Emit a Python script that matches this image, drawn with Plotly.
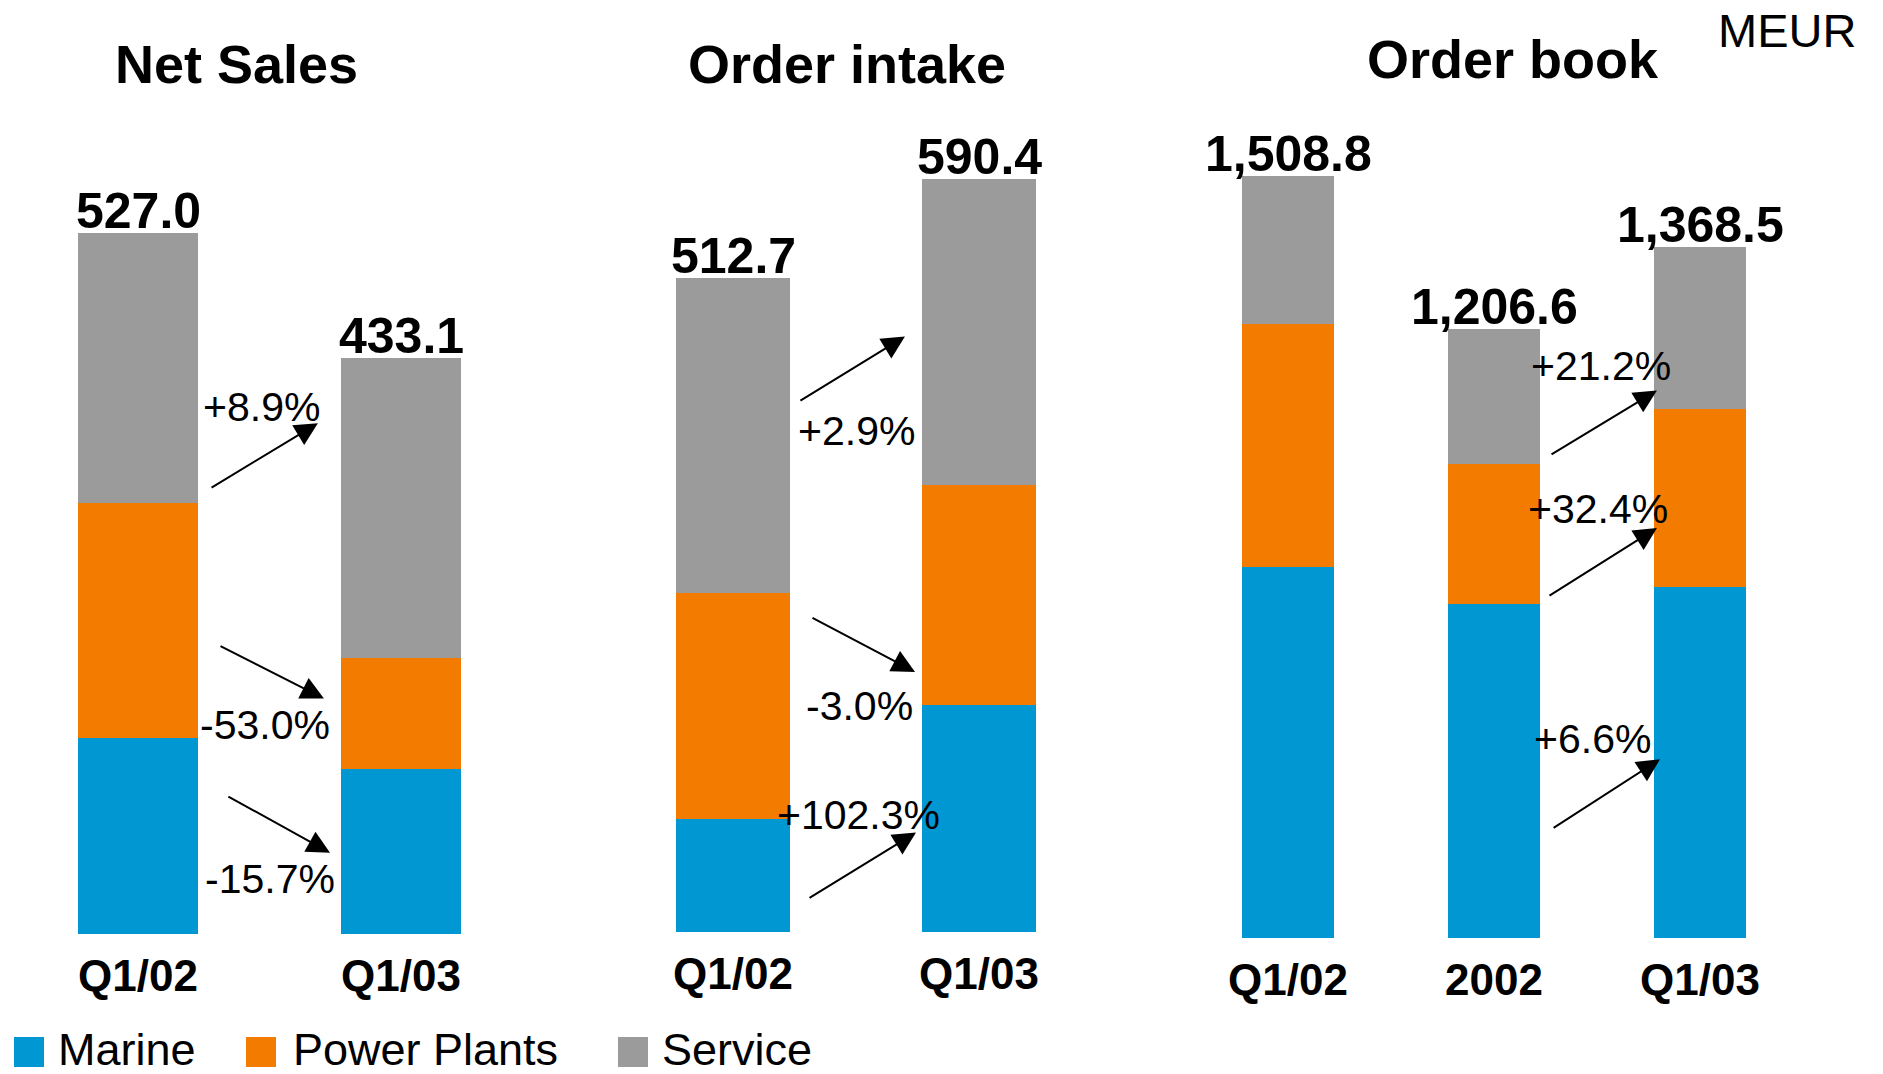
import plotly.graph_objects as go

# ---- data (MEUR) ----
ns_cats = ["Q1/02", "Q1/03"]
ns_marine = [147.0, 124.0]
ns_power = [177.0, 83.5]
ns_service = [203.0, 225.6]
ns_total = [527.0, 433.1]
ns_changes = ["+8.9%", "-53.0%", "-15.7%"]

oi_cats = ["Q1/02", "Q1/03"]
oi_marine = [88.5, 178.0]
oi_power = [177.0, 172.5]
oi_service = [247.2, 239.9]
oi_total = [512.7, 590.4]
oi_changes = ["+2.9%", "-3.0%", "+102.3%"]

ob_cats = ["Q1/02", "2002", "Q1/03"]
ob_marine = [735.6, 662.0, 695.4]
ob_power = [480.9, 276.0, 352.3]
ob_service = [292.3, 268.6, 320.8]
ob_total = [1508.8, 1206.6, 1368.5]
ob_changes = ["+21.2%", "+32.4%", "+6.6%"]

segments = ["Marine", "Power Plants", "Service"]
colors = ["#0097D3", "#F27B00", "#9B9B9B"]

W, H = 1883, 1074
FONT = "Liberation Sans, Arial, sans-serif"

fig = go.Figure()

panels = [
    dict(ax="", cats=ns_cats, series=[ns_marine, ns_power, ns_service], total=ns_total,
         width=0.456, xdom=(6.5, 532.5), base=934, ymax=934 / 1.33,
         title="Net Sales", tpos=(236, 64), changes=ns_changes,
         arrows=[((0.274, 335), (0.684, 384), (0.468, 396)),
                 ((0.308, 217), (0.707, 177), (0.483, 157)),
                 ((0.338, 104), (0.730, 61), (0.502, 41))]),
    dict(ax="2", cats=oi_cats, series=[oi_marine, oi_power, oi_service], total=oi_total,
         width=0.46, xdom=(610, 1102), base=932, ymax=932 / 1.275,
         title="Order intake", tpos=(847, 64), changes=oi_changes,
         arrows=[((0.268, 416), (0.699, 467), (0.504, 393)),
                 ((0.317, 247), (0.740, 204), (0.516, 177)),
                 ((0.305, 26), (0.744, 78), (0.512, 92))]),
    dict(ax="3", cats=ob_cats, series=[ob_marine, ob_power, ob_service], total=ob_total,
         width=0.447, xdom=(1185, 1803), base=938, ymax=938 / 0.505,
         title="Order book", tpos=(1513, 59), changes=ob_changes,
         arrows=[((1.272, 956), (1.791, 1084), (1.519, 1132)),
                 ((1.262, 676), (1.791, 812), (1.505, 850)),
                 ((1.282, 216), (1.806, 354), (1.476, 394))]),
]

annotations = []
for p in panels:
    xr, yr = "x" + p["ax"], "y" + p["ax"]
    for name, col, vals in zip(segments, colors, p["series"]):
        fig.add_trace(go.Bar(x=p["cats"], y=vals, name=name, marker_color=col,
                             marker_line_width=0, width=p["width"],
                             xaxis=xr, yaxis=yr, showlegend=False))
    n = len(p["cats"])
    fig.update_layout(**{
        "xaxis" + p["ax"]: dict(domain=[p["xdom"][0] / W, p["xdom"][1] / W],
                                range=[-0.5, n - 0.5], type="category",
                                showgrid=False, zeroline=False, showline=False,
                                ticks="outside", ticklen=3, tickcolor="rgba(0,0,0,0)",
                                tickfont=dict(family=FONT, size=44, color="black", weight="bold"),
                                anchor=yr),
        "yaxis" + p["ax"]: dict(domain=[1 - p["base"] / H, 1], range=[0, p["ymax"]],
                                visible=False, anchor=xr),
    })
    # totals above each stack (category index keeps "2002" from being read as a number)
    for i, t in enumerate(p["total"]):
        annotations.append(dict(xref=xr, yref=yr, x=i, y=t, text=f"{t:,.1f}",
                                showarrow=False, xanchor="center", yanchor="bottom", yshift=-8,
                                font=dict(family=FONT, size=50, color="black", weight="bold")))
    # change arrows and percentages (Service, Power Plants, Marine)
    for label, (start, end, lab) in zip(p["changes"], p["arrows"]):
        annotations.append(dict(xref=xr, yref=yr, axref=xr, ayref=yr,
                                x=end[0], y=end[1], ax=start[0], ay=start[1],
                                text="", showarrow=True, arrowhead=2, arrowsize=2.3,
                                arrowwidth=2.0, arrowcolor="black", standoff=0))
        annotations.append(dict(xref=xr, yref=yr, x=lab[0], y=lab[1], text=label,
                                showarrow=False, xanchor="center", yanchor="middle",
                                font=dict(family=FONT, size=41, color="black")))
    annotations.append(dict(xref="paper", yref="paper", x=p["tpos"][0] / W,
                            y=1 - p["tpos"][1] / H, text=p["title"], showarrow=False,
                            xanchor="center", yanchor="middle",
                            font=dict(family=FONT, size=54, color="black", weight="bold")))

annotations.append(dict(xref="paper", yref="paper", x=1858 / W, y=1 - 30 / H,
                        xanchor="right", yanchor="middle", text="MEUR", showarrow=False,
                        font=dict(family=FONT, size=47, color="black")))

# legend row
shapes = []
legend_pos = [(14, 56), (246, 291), (618, 660)]
for name, col, (sx, tx) in zip(segments, colors, legend_pos):
    shapes.append(dict(type="rect", xref="paper", yref="paper",
                       x0=sx / W, x1=(sx + 30) / W, y0=1 - 1067 / H, y1=1 - 1037 / H,
                       fillcolor=col, line_width=0))
    annotations.append(dict(xref="paper", yref="paper", x=tx / W, y=1 - 1049 / H,
                            xanchor="left", yanchor="middle", text=name, showarrow=False,
                            font=dict(family=FONT, size=45, color="black")))

fig.update_layout(width=W, height=H, margin=dict(l=0, r=0, t=0, b=0),
                  barmode="stack", paper_bgcolor="white", plot_bgcolor="white",
                  showlegend=False, annotations=annotations, shapes=shapes)

fig.write_html("out.html")
